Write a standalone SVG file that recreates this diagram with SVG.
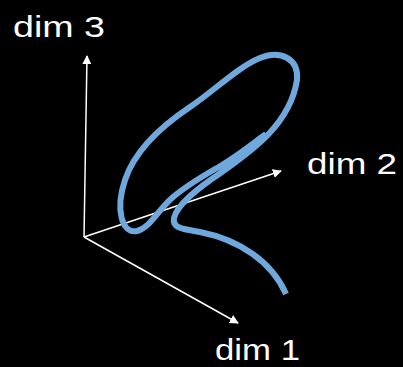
<svg xmlns="http://www.w3.org/2000/svg" width="403" height="367" viewBox="0 0 403 367">
<style>
.ax{stroke:#fff;stroke-width:1.5;fill:none}
.lbl{font-family:"Liberation Sans",Arial,sans-serif;font-size:30px;fill:#fff}
.curve{stroke:#6fa8dc;stroke-width:6;fill:none;stroke-linecap:butt;stroke-linejoin:round}
</style>
<defs>
<marker id="ah" viewBox="0 0 10 10" refX="9" refY="5" markerWidth="9" markerHeight="9" markerUnits="userSpaceOnUse" orient="auto">
<path d="M0,0 L10,5 L0,10 z" fill="#fff"/>
</marker>
</defs>
<rect width="403" height="367" fill="#000"/>
<g id="connectors">
<line class="ax" x1="84" y1="237" x2="87" y2="56" marker-end="url(#ah)"/>
<line class="ax" x1="84" y1="237" x2="281" y2="171" marker-end="url(#ah)"/>
<line class="ax" x1="84" y1="237" x2="238" y2="323" marker-end="url(#ah)"/>
</g>
<g id="curve">
<path class="curve" d="M286,294 C272,262 240,240 200,232 C182,229 172,228 174,218 C177,205 195,190 222,172 C250,152 290,125 297,80 C299,58 280,50 260,58 C238,67 215,90 190,107 C160,127 135,150 125,180 C115,210 122,234 137,231 C150,228 158,210 172,198 C188,184 205,175 222,165 C240,154 252,144 266,134"/>
</g>
<g id="dim3"><text class="lbl" x="13" y="37" textLength="92" lengthAdjust="spacingAndGlyphs">dim 3</text></g>
<g id="dim2"><text class="lbl" x="307" y="174" textLength="90" lengthAdjust="spacingAndGlyphs">dim 2</text></g>
<g id="dim1"><text class="lbl" x="215" y="360" textLength="85" lengthAdjust="spacingAndGlyphs">dim 1</text></g>
</svg>
